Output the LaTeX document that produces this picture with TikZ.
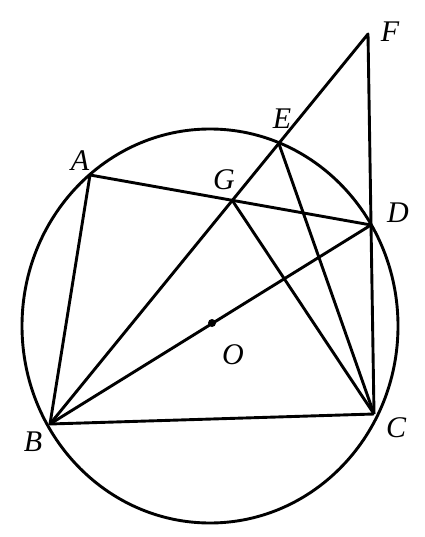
\documentclass[tikz,border=0pt]{standalone}
\usepackage{fontspec}
\setmainfont{Liberation Serif}
\begin{document}
\begin{tikzpicture}[x=1pt,y=-1pt,
  geo/.style={line width=2.9pt, line join=round},
  lbl/.style={font=\fontsize{30}{31}\selectfont\itshape, inner sep=0pt}]
\useasboundingbox (0,0) rectangle (424,537);
\coordinate (A) at (90,175);
\coordinate (B) at (50,424);
\coordinate (C) at (374,414);
\coordinate (D) at (371,225);
\coordinate (E) at (279,144);
\coordinate (F) at (368,34);
\coordinate (G) at (232,200);
\coordinate (O) at (212,323);
\draw[geo] (210,326) ellipse [x radius=188, y radius=197];
\draw[geo] (A) -- (B) -- (C);
\draw[geo] (A) -- (D);
\draw[geo] (B) -- (D);
\draw[geo] (B) -- (F) -- (C);
\draw[geo] (E) -- (C);
\draw[geo] (G) -- (C);
\fill (O) circle (4);
\node[lbl] (lA) at (80,161) {A};
\node[lbl] (lE) at (282,119) {E};
\node[lbl] (lF) at (390,32) {F};
\node[lbl] (lG) at (224,180) {G};
\node[lbl] (lD) at (398,213) {D};
\node[lbl] (lO) at (233,355) {O};
\node[lbl] (lB) at (33,442) {B};
\node[lbl] (lC) at (396,428) {C};
\end{tikzpicture}
\end{document}
